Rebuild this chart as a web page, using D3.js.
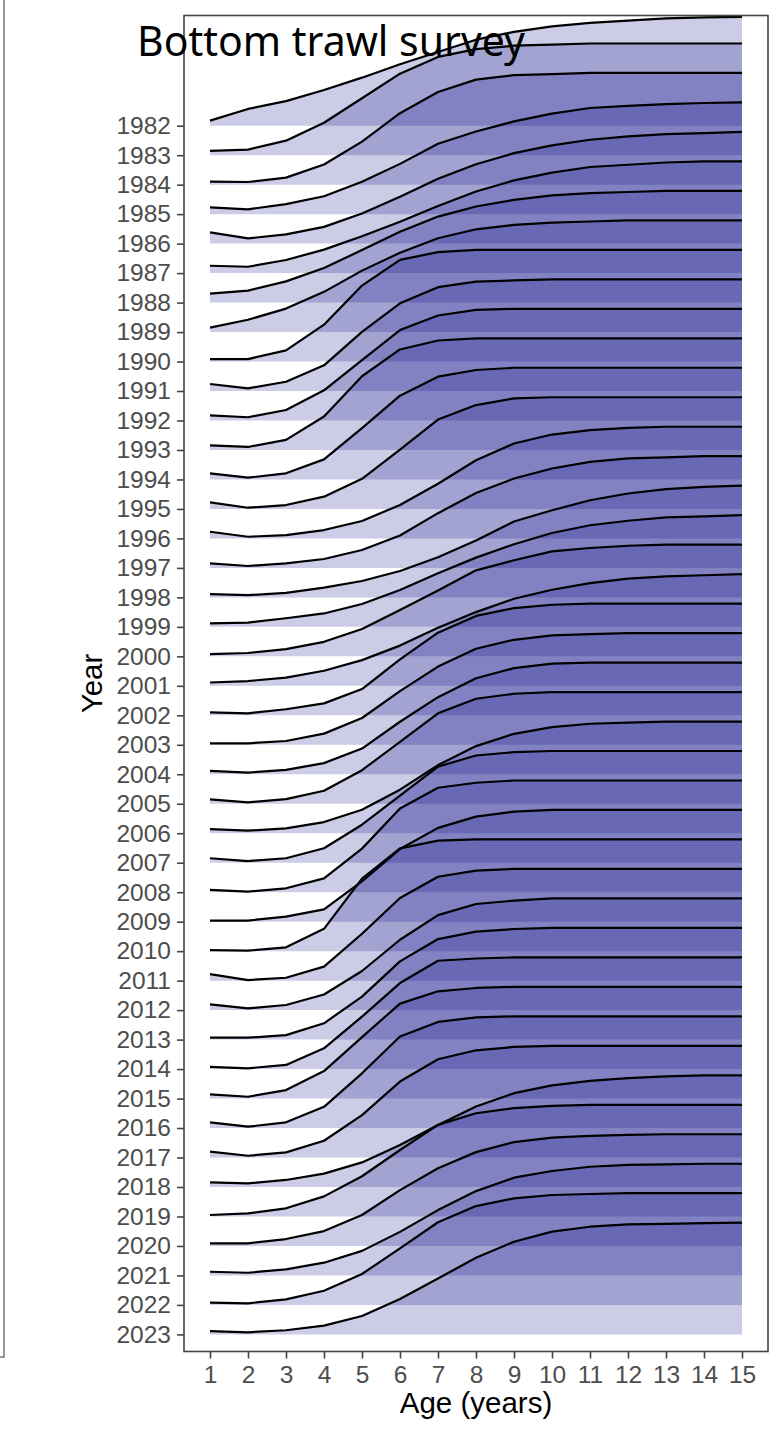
<!DOCTYPE html>
<html lang="en-US">
<head>
<meta charset="utf-8">
<script src="https://d3js.org/d3.v7.min.js"></script>
<style>
    body { margin: 0; background: #fff; }
    svg text { font-family: "Liberation Sans", Arial, Helvetica, sans-serif; }
</style>
</head>
<body>
<svg width="769" height="1432"></svg>

<script>
// survey selectivity at age, one row per year
var years = d3.range(1982, 2024);
var ages = d3.range(1, 16);
var sel = [
    [0.045,0.15,0.22,0.32,0.43,0.55,0.66,0.77,0.84,0.89,0.92,0.94,0.96,0.97,0.975], // 1982
    [0.038,0.05,0.13,0.29,0.51,0.73,0.88,0.95,0.98,0.99,1,1,1,1,1],
    [0.027,0.024,0.063,0.18,0.385,0.64,0.83,0.94,0.98,0.99,1,1,1,1,1],
    [0.06,0.043,0.09,0.16,0.29,0.45,0.63,0.74,0.83,0.90,0.95,0.97,0.985,0.995,1],
    [0.10,0.047,0.083,0.15,0.27,0.42,0.58,0.71,0.81,0.88,0.93,0.96,0.98,0.99,1],
    [0.066,0.057,0.117,0.21,0.33,0.46,0.60,0.73,0.83,0.90,0.95,0.97,0.99,1,1],
    [0.08,0.107,0.19,0.31,0.47,0.635,0.77,0.86,0.92,0.96,0.98,0.99,1,1,1],
    [0.04,0.11,0.21,0.36,0.55,0.71,0.84,0.92,0.96,0.98,0.99,1,1,1,1],
    [0.022,0.022,0.10,0.33,0.68,0.91,0.98,1,1,1,1,1,1,1,1], // 1990
    [0.063,0.024,0.083,0.23,0.53,0.785,0.93,0.98,0.99,1,1,1,1,1,1],
    [0.046,0.029,0.094,0.27,0.54,0.81,0.94,0.99,1,1,1,1,1,1,1],
    [0.042,0.027,0.09,0.30,0.66,0.90,0.98,1,1,1,1,1,1,1,1],
    [0.055,0.016,0.055,0.18,0.46,0.75,0.92,0.98,1,1,1,1,1,1,1],
    [0.059,0.011,0.035,0.11,0.27,0.53,0.80,0.93,0.99,1,1,1,1,1,1],
    [0.06,0.015,0.03,0.075,0.156,0.30,0.49,0.70,0.85,0.93,0.97,0.99,1,1,1],
    [0.04,0.017,0.04,0.08,0.16,0.29,0.49,0.67,0.80,0.89,0.95,0.98,0.99,1,1],
    [0.03,0.02,0.04,0.087,0.147,0.236,0.36,0.51,0.68,0.78,0.87,0.93,0.97,0.99,1],
    [0.032,0.038,0.077,0.12,0.205,0.33,0.48,0.62,0.74,0.84,0.91,0.95,0.98,0.99,1],
    [0.02,0.03,0.065,0.13,0.245,0.415,0.59,0.77,0.86,0.94,0.97,0.99,1,1,1], // 2000
    [0.03,0.043,0.073,0.135,0.23,0.36,0.52,0.66,0.78,0.86,0.92,0.96,0.98,0.99,1],
    [0.027,0.018,0.054,0.107,0.235,0.50,0.74,0.89,0.96,0.99,1,1,1,1,1],
    [0.013,0.013,0.034,0.10,0.24,0.48,0.70,0.86,0.94,0.98,0.99,1,1,1,1],
    [0.03,0.015,0.04,0.10,0.23,0.47,0.69,0.86,0.95,0.99,1,1,1,1,1],
    [0.04,0.012,0.042,0.116,0.30,0.555,0.81,0.94,0.985,1,1,1,1,1,1],
    [0.037,0.023,0.044,0.10,0.21,0.39,0.61,0.78,0.89,0.95,0.98,0.99,1,1,1],
    [0.04,0.015,0.04,0.13,0.34,0.60,0.86,0.96,0.99,1,1,1,1,1,1],
    [0.02,0.005,0.035,0.124,0.39,0.75,0.935,0.98,1,1,1,1,1,1,1],
    [0.01,0.01,0.045,0.11,0.36,0.65,0.84,0.94,0.985,1,1,1,1,1,1],
    [0.01,0.004,0.034,0.20,0.65,0.92,0.99,1,1,1,1,1,1,1,1], // 2010
    [0.059,0.005,0.026,0.125,0.42,0.74,0.93,0.985,1,1,1,1,1,1,1],
    [0.052,0.016,0.046,0.14,0.35,0.63,0.85,0.95,0.98,1,1,1,1,1,1],
    [0.017,0.017,0.04,0.146,0.385,0.70,0.90,0.966,0.99,1,1,1,1,1,1],
    [0.02,0.007,0.037,0.186,0.47,0.77,0.97,0.99,1,1,1,1,1,1,1],
    [0.037,0.016,0.076,0.246,0.55,0.85,0.96,0.99,1,1,1,1,1,1,1],
    [0.051,0.012,0.051,0.19,0.49,0.82,0.95,0.99,1,1,1,1,1,1,1],
    [0.052,0.016,0.046,0.15,0.38,0.68,0.88,0.96,0.99,1,1,1,1,1,1],
    [0.042,0.033,0.063,0.12,0.22,0.376,0.555,0.72,0.84,0.91,0.95,0.975,0.99,1,1],
    [0.013,0.028,0.073,0.18,0.36,0.595,0.82,0.924,0.97,0.99,1,1,1,1,1],
    [0.023,0.023,0.062,0.133,0.277,0.50,0.695,0.84,0.93,0.97,0.985,0.995,1,1,1], // 2020
    [0.033,0.024,0.055,0.114,0.22,0.39,0.585,0.755,0.875,0.935,0.973,0.99,0.995,1,1],
    [0.02,0.014,0.05,0.127,0.277,0.507,0.74,0.885,0.954,0.984,0.993,1,1,1,1],
    [0.03,0.019,0.037,0.078,0.165,0.317,0.50,0.687,0.83,0.92,0.964,0.985,0.99,0.997,1]  // 2023
];

var svg = d3.select("svg");
var panel = {left: 184, right: 768, top: 15.5, bottom: 1351.5};

var x = d3.scaleLinear().domain([1, 15]).range([210, 742]);
var y = d3.scalePoint().domain(years).range([125.7, 1334.4]);
var h = d3.scaleLinear().domain([0, 1]).range([0, 111.7]);   // ridge height

// edge of the neighbouring panel on the far left
svg.append("path")
    .attr("d", "M0,1357 H4 V0")
    .attr("fill", "none")
    .attr("stroke", "#777")
    .attr("stroke-width", 1.5);

svg.append("clipPath").attr("id", "clip")
    .append("rect")
    .attr("x", panel.left).attr("y", panel.top)
    .attr("width", panel.right - panel.left).attr("height", panel.bottom - panel.top);

var ridges = svg.append("g").attr("clip-path", "url(#clip)")
    .selectAll("g")
    .data(years.map(function(yr, i) { return {year: yr, vals: sel[i]}; }))
    .enter().append("g");

ridges.append("path")
    .attr("d", function(d) {
        var base = y(d.year);
        return d3.area()
            .x(function(v, i) { return x(ages[i]); })
            .y0(base)
            .y1(function(v) { return base - h(v); })(d.vals);
    })
    .attr("fill", "navy")
    .attr("fill-opacity", 0.2);

ridges.append("path")
    .attr("d", function(d) {
        var base = y(d.year);
        return d3.line()
            .x(function(v, i) { return x(ages[i]); })
            .y(function(v) { return base - h(v); })(d.vals);
    })
    .attr("fill", "none")
    .attr("stroke", "#000")
    .attr("stroke-width", 2.2)
    .attr("stroke-linejoin", "round");

// axes
var yAxis = svg.append("g")
    .attr("transform", "translate(" + panel.left + ",0)")
    .call(d3.axisLeft(y).tickSize(7).tickPadding(6));
var xAxis = svg.append("g")
    .attr("transform", "translate(0," + panel.bottom + ")")
    .call(d3.axisBottom(x).tickValues(ages).tickFormat(d3.format("d")).tickSize(7).tickPadding(7));

[yAxis, xAxis].forEach(function(a) {
    a.select(".domain").remove();
    a.selectAll(".tick line").attr("stroke", "#444").attr("stroke-width", 1.6);
    a.selectAll(".tick text").attr("fill", "#4d4d4d").style("font-size", "24.5px");
});

svg.append("rect")
    .attr("x", panel.left).attr("y", panel.top)
    .attr("width", panel.right - panel.left).attr("height", panel.bottom - panel.top)
    .attr("fill", "none")
    .attr("stroke", "#444")
    .attr("stroke-width", 1.6);

svg.append("text")
    .attr("x", (panel.left + panel.right) / 2)
    .attr("y", 1413)
    .attr("text-anchor", "middle")
    .style("font-size", "29.5px")
    .text("Age (years)");

svg.append("text")
    .attr("transform", "translate(102," + (panel.top + panel.bottom) / 2 + ") rotate(-90)")
    .attr("text-anchor", "middle")
    .style("font-size", "29.5px")
    .text("Year");

svg.append("text")
    .attr("x", 137)
    .attr("y", 56)
    .attr("textLength", 388)
    .attr("lengthAdjust", "spacingAndGlyphs")
    .style("font-family", "'Noto Sans', 'Open Sans', sans-serif")
    .style("font-size", "42px")
    .text("Bottom trawl survey");
</script>
</body>
</html>
